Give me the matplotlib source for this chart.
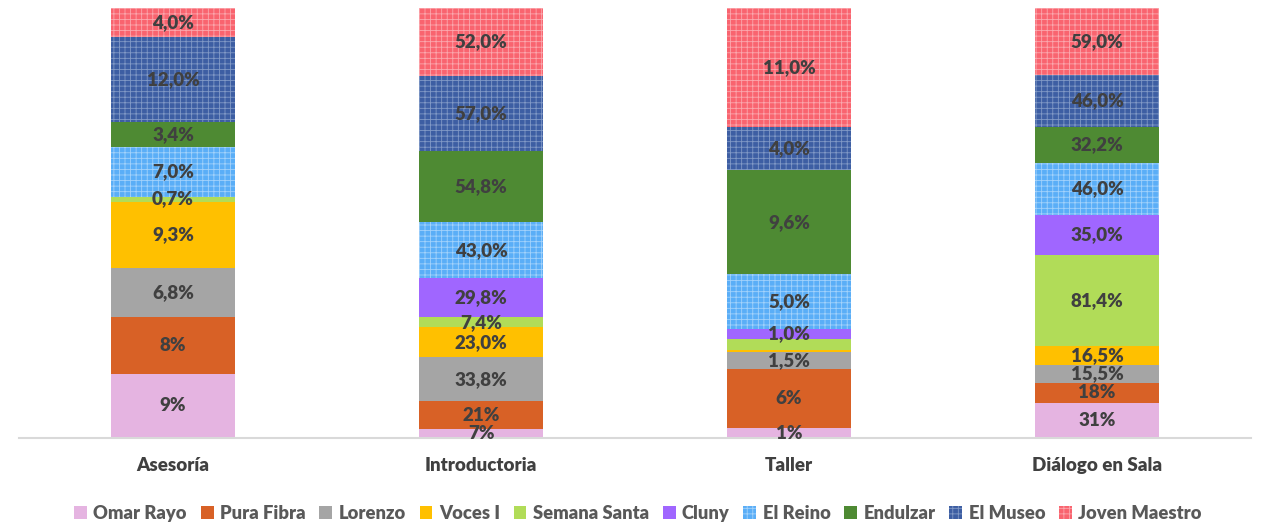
import matplotlib
matplotlib.use("Agg")
import matplotlib.pyplot as plt
import numpy as np
from matplotlib.patches import Patch

plt.rcParams['font.family'] = ['Lato', 'DejaVu Sans']
plt.rcParams['hatch.linewidth'] = 0.6

categories = ["Asesoría", "Introductoria", "Taller", "Diálogo en Sala"]
series = ["Omar Rayo", "Pura Fibra", "Lorenzo", "Voces I", "Semana Santa",
          "Cluny", "El Reino", "Endulzar", "El Museo", "Joven Maestro"]

omar_rayo     = [9.0, 7.0, 0.9, 31.0]
pura_fibra    = [8.0, 21.0, 5.5, 18.0]
lorenzo       = [6.8, 33.8, 1.5, 15.5]
voces_i       = [9.3, 23.0, 0.2, 16.5]
semana_santa  = [0.7, 7.4, 1.0, 81.4]
cluny         = [0.0, 29.8, 1.0, 35.0]
el_reino      = [7.0, 43.0, 5.0, 46.0]
endulzar      = [3.4, 54.8, 9.6, 32.2]
el_museo      = [12.0, 57.0, 4.0, 46.0]
joven_maestro = [4.0, 52.0, 11.0, 59.0]

labels_omar   = ["9%", "7%", "1%", "31%"]
labels_pura   = ["8%", "21%", "6%", "18%"]
labels_lor    = ["6,8%", "33,8%", "1,5%", "15,5%"]
labels_voces  = ["9,3%", "23,0%", "", "16,5%"]
labels_sem    = ["0,7%", "7,4%", "", "81,4%"]
labels_cluny  = ["", "29,8%", "1,0%", "35,0%"]
labels_reino  = ["7,0%", "43,0%", "5,0%", "46,0%"]
labels_endul  = ["3,4%", "54,8%", "9,6%", "32,2%"]
labels_museo  = ["12,0%", "57,0%", "4,0%", "46,0%"]
labels_joven  = ["4,0%", "52,0%", "11,0%", "59,0%"]

data = [omar_rayo, pura_fibra, lorenzo, voces_i, semana_santa,
        cluny, el_reino, endulzar, el_museo, joven_maestro]
labels = [labels_omar, labels_pura, labels_lor, labels_voces, labels_sem,
          labels_cluny, labels_reino, labels_endul, labels_museo, labels_joven]

colors = ["#E5B4E1", "#D86126", "#A5A5A5", "#FFC000", "#B1DC58",
          "#A066FF", "#5AAEF7", "#4E8A33", "#3D5EA3", "#F9646F"]
hatch_colors = [None, None, None, None, None, None,
                "#A3D2FB", None, "#8199C6", "#FBA8AE"]

arr = np.array(data, dtype=float)
totals = arr.sum(axis=0)
pct = arr / totals * 100

fig = plt.figure(figsize=(12.76, 5.25), dpi=100)
ax = fig.add_axes([0.0149, 0.1657, 0.9655, 0.8191])

x = np.arange(len(categories))
width = 0.405
bottom = np.zeros(len(categories))
for i, name in enumerate(series):
    if hatch_colors[i]:
        ax.bar(x, pct[i], width, bottom=bottom, color=colors[i],
               edgecolor=hatch_colors[i], linewidth=0, hatch='+++', label=name)
    else:
        ax.bar(x, pct[i], width, bottom=bottom, color=colors[i],
               linewidth=0, label=name)
    for j in range(len(categories)):
        if labels[i][j]:
            ax.text(x[j], bottom[j] + pct[i][j] / 2, labels[i][j],
                    ha='center', va='center', fontsize=13.5,
                    fontweight='heavy', color='#404040')
    bottom += pct[i]

ax.set_xlim(-0.5, 3.5)
ax.set_ylim(0, 100)
ax.set_yticks([])
ax.set_xticks(x)
ax.set_xticklabels(categories, fontsize=13.5, fontweight='heavy', color='#404040')
ax.tick_params(axis='x', length=0, pad=14)
for s in ['top', 'right', 'left']:
    ax.spines[s].set_visible(False)
ax.spines['bottom'].set_color('#D9D9D9')
ax.spines['bottom'].set_linewidth(1.5)

handles = []
for i, name in enumerate(series):
    if hatch_colors[i]:
        handles.append(Patch(facecolor=colors[i], edgecolor=hatch_colors[i],
                             hatch='+++', linewidth=0, label=name))
    else:
        handles.append(Patch(facecolor=colors[i], linewidth=0, label=name))
leg = fig.legend(handles=handles, loc='center', bbox_to_anchor=(0.5, 0.022),
                 ncol=10, frameon=False, handlelength=0.7, handleheight=0.7,
                 handletextpad=0.35, columnspacing=0.75,
                 prop={'size': 13.2, 'weight': 'heavy'})
for t in leg.get_texts():
    t.set_color('#595959')

fig.savefig("out.png", dpi=100)
